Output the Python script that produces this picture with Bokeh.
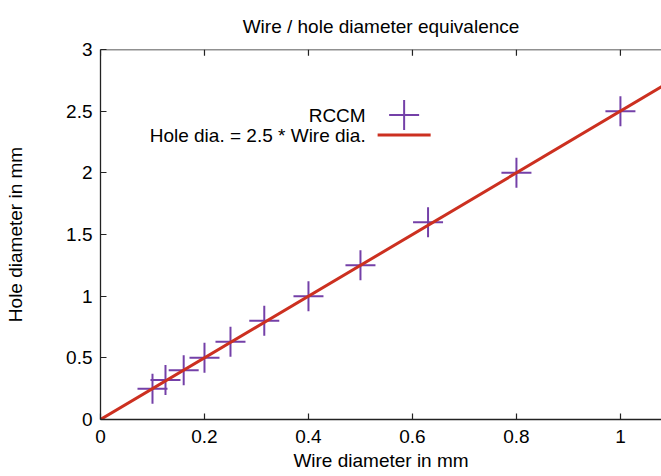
from bokeh.plotting import figure
from bokeh.models import Range1d, FixedTicker, Label, Span
from bokeh.embed import file_html
from bokeh.resources import INLINE

# ---- data ----
wire_mm = [0.1, 0.125, 0.16, 0.2, 0.25, 0.315, 0.4, 0.5, 0.63, 0.8, 1.0]
hole_mm = [0.25, 0.32, 0.4, 0.5, 0.63, 0.8, 1.0, 1.25, 1.6, 2.0, 2.5]
fit_ratio = 2.5
fit_wire = [0.0, 1.2]
fit_hole = [fit_ratio * w for w in fit_wire]

x_ticks = [0, 0.2, 0.4, 0.6, 0.8, 1]
x_tick_labels = ["0", "0.2", "0.4", "0.6", "0.8", "1"]
y_ticks = [0, 0.5, 1, 1.5, 2, 2.5, 3]
y_tick_labels = ["0", "0.5", "1", "1.5", "2", "2.5", "3"]

chart_title = "Wire / hole diameter equivalence"
series_names = ["RCCM", "Hole dia. = 2.5 * Wire dia."]

# ---- style ----
FONT = "Liberation Sans"
FS = "19px"
PURPLE = "#7440a8"
RED = "#cc3020"
AXIS_COLOR = "#222222"
Y_TOP = 3
TICK_LEN_DATA = 0.05
# key layout (data units)
KEY_TEXT_X = 0.51
KEY_ROW_Y = [2.468, 2.306]
KEY_SAMPLE_X = [0.533, 0.635]

p = figure(width=661, height=476, output_backend="svg", toolbar_location=None,
           x_range=Range1d(0, 1.079), y_range=Range1d(0, Y_TOP),
           min_border_left=100, min_border_right=0, min_border_top=47,
           min_border_bottom=57)
p.outline_line_color = None
p.grid.visible = False
p.background_fill_color = "white"
p.border_fill_color = "white"

p.title.text = chart_title
p.title.align = "center"
p.title.text_font = FONT
p.title.text_font_size = FS
p.title.text_font_style = "normal"
p.title.text_color = "black"
p.title.padding = 8

xax = p.below[0]
yax = p.left[0]

xax.ticker = FixedTicker(ticks=x_ticks)
xax.major_label_overrides = dict(zip(x_ticks, x_tick_labels))
yax.ticker = FixedTicker(ticks=y_ticks)
yax.major_label_overrides = dict(zip(y_ticks, y_tick_labels))

for ax in (xax, yax):
    ax.axis_line_color = AXIS_COLOR
    ax.axis_line_width = 1.3
    ax.major_tick_line_color = AXIS_COLOR
    ax.major_tick_line_width = 1.2
    ax.major_tick_in = 6
    ax.major_tick_out = 0
    ax.minor_tick_line_color = None
    ax.major_label_text_font = FONT
    ax.major_label_text_font_size = FS
    ax.major_label_text_color = "black"
    ax.axis_label_text_font = FONT
    ax.axis_label_text_font_size = FS
    ax.axis_label_text_font_style = "normal"
    ax.axis_label_text_color = "black"

yax.axis_label = "Hole diameter in mm"
yax.major_label_standoff = 8
yax.axis_label_standoff = 37

xax.axis_label = "Wire diameter in mm"
xax.major_label_standoff = 10
xax.axis_label_standoff = 4

# top border with inward mirror ticks (gnuplot style)
p.add_layout(Span(location=Y_TOP, dimension="width", line_color=AXIS_COLOR,
                  line_width=1.3))
p.segment(x0=x_ticks, y0=[Y_TOP] * len(x_ticks), x1=x_ticks,
          y1=[Y_TOP - TICK_LEN_DATA] * len(x_ticks),
          line_color=AXIS_COLOR, line_width=1.2)

# data
p.scatter(wire_mm, hole_mm, marker="cross", size=30, line_color=PURPLE, line_width=2)
p.line(fit_wire, fit_hole, line_color=RED, line_width=3)

# key (gnuplot style: text then sample)
for name, ky in zip(series_names, KEY_ROW_Y):
    p.add_layout(Label(x=KEY_TEXT_X, y=ky, text=name, text_align="right",
                       text_baseline="middle", text_font=FONT, text_font_size=FS,
                       text_color="black"))
p.scatter([sum(KEY_SAMPLE_X) / 2], [KEY_ROW_Y[0]], marker="cross", size=30,
          line_color=PURPLE, line_width=2)
p.line(KEY_SAMPLE_X, [KEY_ROW_Y[1]] * 2, line_color=RED, line_width=3)

open("out.html", "w").write(file_html(p, INLINE))
